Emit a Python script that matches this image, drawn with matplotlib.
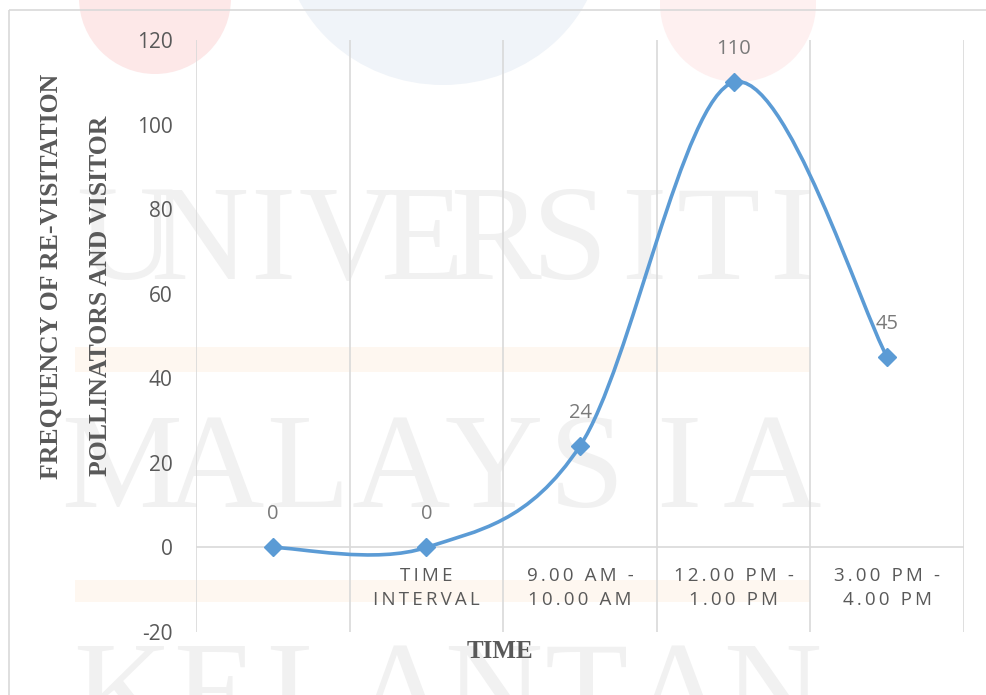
import matplotlib
matplotlib.use("Agg")
import matplotlib.pyplot as plt
from matplotlib.path import Path
from matplotlib.patches import PathPatch, Ellipse, Rectangle
import numpy as np

# ---- data -------------------------------------------------------------
categories = ["", "TIME\nINTERVAL", "9.00 AM -\n10.00 AM", "12.00 PM -\n1.00 PM", "3.00 PM -\n4.00 PM"]
values = [0, 0, 24, 110, 45]
y_ticks = [-20, 0, 20, 40, 60, 80, 100, 120]

W, H, DPI = 986, 695, 100
LINE_COLOR = "#5B9BD5"
TEXT_GRAY = "#595959"
LABEL_GRAY = "#7a7a7a"
GRID = "#d9d9d9"
SANS = ["Open Sans", "DejaVu Sans"]
SERIF = ["Liberation Serif", "DejaVu Serif"]

fig = plt.figure(figsize=(W / DPI, H / DPI), dpi=DPI)
fig.patch.set_facecolor("white")

# ---- background page watermark (pixel coordinates) -------------------
bg = fig.add_axes([0, 0, 1, 1], zorder=0)
bg.set_xlim(0, W)
bg.set_ylim(H, 0)
bg.axis("off")
bg.add_patch(Ellipse((155, -2), 152, 152, color="#fde8e8", lw=0))
bg.add_patch(Ellipse((443, -65), 320, 300, color="#f0f4f9", lw=0))
bg.add_patch(Ellipse((738, 4), 156, 156, color="#fef0f0", lw=0))
bg.add_patch(Rectangle((75, 347), 735, 25, color="#fef7f0", lw=0))
bg.add_patch(Rectangle((75, 580), 735, 22, color="#fef7f0", lw=0))

def spread_word(word, y, x0, x1, size=98):
    xs = np.linspace(x0, x1, len(word))
    for ch, x in zip(word, xs):
        bg.text(x, y, ch, ha="center", va="center", fontsize=size,
                family=SERIF, color="#f1f1f1")

spread_word("UNIVERSITI", 246, 125, 792)
spread_word("MALAYSIA", 474, 122, 772)
spread_word("KELANTAN", 702, 122, 772)

# chart frame
bg.add_patch(Rectangle((9, 10), 1200, 1000, fill=False, ec="#d9d9d9", lw=1.2))

# ---- plot area ---------------------------------------------------------
left, right = 196 / W, 964 / W
bottom, top = (H - 632) / H, (H - 40) / H
ax = fig.add_axes([left, bottom, right - left, top - bottom], zorder=2)
ax.set_facecolor("none")
x = np.arange(len(values))
ax.set_xlim(-0.5, len(values) - 0.5)
ax.set_ylim(-20, 120)

for s in ax.spines.values():
    s.set_visible(False)

# vertical gridlines at category boundaries
for b in np.arange(-0.5, len(values), 1.0):
    ax.axvline(b, color=GRID, lw=1.2, zorder=1)
ax.axhline(0, color=GRID, lw=1.2, zorder=1)

ax.set_xticks([])
ax.set_yticks(y_ticks)
ax.set_yticklabels([str(v) for v in y_ticks], family=SANS, fontsize=15, color=TEXT_GRAY)
ax.tick_params(axis="y", length=0, pad=17)

# smoothed line (Excel-style Bezier smoothing)
pts = np.column_stack([x, values]).astype(float)
verts = [tuple(pts[0])]
codes = [Path.MOVETO]
n = len(pts)
for i in range(n - 1):
    p_prev = pts[i - 1] if i > 0 else pts[i]
    p0, p1 = pts[i], pts[i + 1]
    p_next = pts[i + 2] if i + 2 < n else pts[i + 1]
    c1 = p0 + (p1 - p_prev) / 6.0
    c2 = p1 - (p_next - p0) / 6.0
    verts += [tuple(c1), tuple(c2), tuple(p1)]
    codes += [Path.CURVE4] * 3
ax.add_patch(PathPatch(Path(verts, codes), fill=False, ec=LINE_COLOR, lw=2.6,
                       capstyle="round", joinstyle="round", zorder=3))
ax.plot(x, values, ls="none", marker="D", ms=9.5, color=LINE_COLOR, zorder=4)

for xi, v in zip(x, values):
    ax.annotate(str(v), (xi, v), xytext=(0, 24), textcoords="offset points",
                ha="center", va="center", fontsize=14.5, color=LABEL_GRAY, family=SANS)

def spaced(s):
    return "\n".join("\u2009".join(list(line)) for line in s.split("\n"))

for xi, c in zip(x, categories):
    if c:
        ax.annotate(spaced(c), (xi, 0), xytext=(0, -14), textcoords="offset points",
                    ha="center", va="top", fontsize=13.5, color=TEXT_GRAY,
                    family=SANS, linespacing=1.45)

# axis titles
fig.text(500 / W, 1 - 652 / H, "TIME", ha="center", va="center",
         fontsize=18, fontweight="bold", family=SERIF, color=TEXT_GRAY)
fig.text(51 / W, 1 - 276 / H, "FREQUENCY OF RE-VISITATION", ha="center", va="center",
         rotation=90, fontsize=18.5, fontweight="bold", family=SERIF, color=TEXT_GRAY)
fig.text(101 / W, 1 - 296 / H, "POLLINATORS AND VISITOR", ha="center", va="center",
         rotation=90, fontsize=18.5, fontweight="bold", family=SERIF, color=TEXT_GRAY)

fig.savefig("out.png", dpi=DPI, facecolor="white")
